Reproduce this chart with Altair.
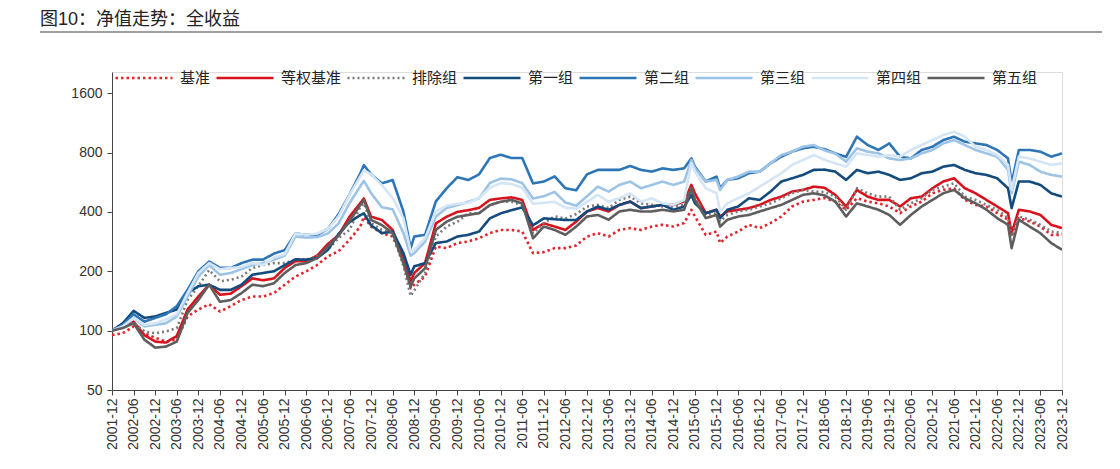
import altair as alt
import pandas as pd

# ---------------- data ----------------
dates = [
    "2001-12",
    "2002-03", "2002-06", "2002-09", "2002-12",
    "2003-03", "2003-06", "2003-09", "2003-12",
    "2004-03", "2004-06", "2004-09", "2004-12",
    "2005-03", "2005-06", "2005-09", "2005-12",
    "2006-03", "2006-06", "2006-09", "2006-12",
    "2007-03", "2007-06", "2007-09", "2007-10", "2007-12",
    "2008-03", "2008-06", "2008-09", "2008-11", "2008-12",
    "2009-03", "2009-06", "2009-09", "2009-12",
    "2010-03", "2010-06", "2010-09", "2010-12",
    "2011-03", "2011-06", "2011-09", "2011-12",
    "2012-03", "2012-06", "2012-09", "2012-12",
    "2013-03", "2013-06", "2013-09", "2013-12",
    "2014-03", "2014-06", "2014-09", "2014-12",
    "2015-03", "2015-05", "2015-06", "2015-09", "2015-12",
    "2016-01", "2016-03", "2016-06", "2016-09", "2016-12",
    "2017-03", "2017-06", "2017-09", "2017-12",
    "2018-03", "2018-06", "2018-09", "2018-12",
    "2019-03", "2019-06", "2019-09", "2019-12",
    "2020-03", "2020-06", "2020-09", "2020-12",
    "2021-03", "2021-06", "2021-09", "2021-12",
    "2022-03", "2022-06", "2022-09", "2022-10", "2022-12",
    "2023-03", "2023-06", "2023-09", "2023-12",
]

benchmark = [
    95,
    97, 105, 97, 92,
    88, 90, 118, 128,
    136, 125, 133, 143,
    149, 149, 155, 171,
    188, 200, 215, 238,
    253, 289, 337, 378, 337,
    312, 300, 220, 164, 171,
    188, 267, 262, 278,
    283, 294, 312, 324,
    324, 318, 247, 250,
    262, 262, 270, 300,
    312, 300, 324, 331,
    324, 337, 344, 337,
    351, 410, 379, 306, 318,
    278, 300, 318, 344, 331,
    351, 379, 426, 451,
    460, 470, 451, 410,
    469, 451, 442, 426,
    394, 426, 451, 497,
    517, 527, 460, 434,
    426, 394, 365, 300, 372,
    358, 337, 306, 306,
]

equal_weight = [
    100,
    105, 111, 95, 88,
    87, 94, 128, 149,
    171, 152, 154, 168,
    184, 180, 184, 208,
    225, 225, 240, 275,
    305, 378, 443, 468, 378,
    364, 324, 229, 178, 196,
    220, 350, 378, 400,
    408, 419, 460, 468,
    474, 460, 324, 350,
    337, 324, 357, 402,
    418, 402, 434, 451,
    418, 426, 434, 434,
    451, 548, 497, 394, 410,
    379, 402, 410, 418, 434,
    460, 478, 507, 517,
    537, 530, 488, 426,
    517, 478, 460, 460,
    426, 469, 478, 527,
    570, 592, 527, 497,
    460, 426, 394, 312, 410,
    402, 386, 344, 331,
]

excluded = [
    100,
    105, 110, 99, 97,
    99, 103, 143, 168,
    203, 178, 181, 188,
    208, 215, 220, 220,
    229, 229, 238, 257,
    295, 324, 424, 442, 350,
    324, 312, 212, 150, 160,
    196, 300, 337, 357,
    394, 394, 433, 450,
    450, 433, 312, 350,
    380, 370, 390, 426,
    434, 418, 460, 478,
    442, 434, 426, 426,
    434, 527, 469, 386, 394,
    358, 386, 402, 410, 426,
    442, 469, 497, 517,
    507, 505, 478, 410,
    527, 497, 478, 478,
    410, 442, 469, 517,
    537, 559, 478, 460,
    434, 410, 372, 300, 379,
    365, 344, 318, 312,
]

group1 = [
    100,
    109, 126, 116, 118,
    123, 128, 155, 168,
    171, 161, 161, 171,
    192, 196, 200, 215,
    230, 229, 233, 257,
    310, 355, 385, 393, 342,
    312, 318, 247, 192, 212,
    220, 278, 283, 300,
    306, 318, 371, 393,
    408, 422, 342, 371,
    367, 364, 364, 402,
    426, 410, 434, 451,
    418, 426, 434, 410,
    426, 488, 442, 394, 410,
    372, 410, 426, 469, 460,
    507, 570, 592, 616,
    653, 655, 640, 581,
    653, 628, 640, 616,
    581, 592, 628, 640,
    678, 692, 653, 628,
    616, 592, 527, 418, 570,
    570, 548, 497, 478,
]

group2 = [
    100,
    107, 121, 111, 116,
    121, 133, 161, 200,
    224, 208, 208, 220,
    229, 229, 246, 256,
    311, 306, 306, 328,
    390, 490, 627, 690, 620,
    558, 580, 401, 262, 300,
    306, 452, 527, 600,
    580, 620, 750, 780,
    750, 750, 558, 570,
    605, 527, 515, 620,
    653, 653, 653, 684,
    653, 640, 665, 653,
    665, 747, 678, 570, 604,
    527, 581, 592, 628, 640,
    705, 762, 808, 840,
    856, 832, 792, 760,
    962, 873, 824, 890,
    762, 747, 824, 856,
    925, 962, 908, 890,
    873, 824, 747, 559, 824,
    824, 808, 762, 792,
]

group3 = [
    100,
    105, 116, 105, 107,
    109, 118, 149, 188,
    215, 192, 196, 205,
    215, 220, 229, 240,
    300, 296, 298, 311,
    350, 443, 540, 575, 498,
    422, 412, 312, 240, 247,
    283, 378, 419, 433,
    450, 468, 560, 590,
    585, 560, 468, 480,
    505, 446, 430, 480,
    537, 507, 548, 570,
    527, 548, 570, 548,
    570, 733, 665, 570, 581,
    517, 581, 604, 640, 640,
    705, 777, 808, 856,
    873, 820, 790, 719,
    840, 808, 792, 747,
    733, 747, 792, 824,
    890, 925, 873, 824,
    792, 762, 653, 497, 719,
    692, 640, 616, 604,
]

group4 = [
    100,
    105, 116, 107, 109,
    114, 121, 155, 196,
    220, 205, 208, 210,
    220, 215, 235, 244,
    311, 306, 310, 328,
    381, 488, 605, 650, 620,
    546, 470, 371, 252, 257,
    294, 402, 430, 440,
    445, 470, 530, 560,
    555, 530, 440, 445,
    450, 420, 415, 450,
    488, 451, 469, 497,
    451, 469, 442, 434,
    460, 705, 640, 527, 497,
    402, 442, 469, 497, 537,
    581, 628, 692, 733,
    777, 735, 705, 678,
    792, 777, 762, 777,
    762, 824, 873, 925,
    981, 1020, 962, 856,
    824, 777, 692, 517, 762,
    747, 719, 692, 705,
]

group5 = [
    100,
    103, 109, 90, 82,
    83, 88, 123, 143,
    171, 140, 143, 155,
    171, 168, 174, 196,
    215, 220, 233, 267,
    304, 360, 433, 460, 364,
    343, 312, 220, 167, 184,
    207, 324, 357, 378,
    386, 394, 433, 450,
    460, 442, 294, 337,
    324, 306, 337, 379,
    386, 365, 402, 410,
    402, 402, 410, 402,
    410, 527, 460, 372, 386,
    337, 365, 379, 386, 402,
    418, 434, 460, 488,
    497, 485, 451, 379,
    442, 426, 410, 386,
    344, 386, 426, 460,
    497, 517, 469, 442,
    410, 372, 344, 262, 365,
    337, 312, 278, 257,
]

series_names = ["基准", "等权基准", "排除组", "第一组", "第二组", "第三组", "第四组", "第五组"]
series_values = [benchmark, equal_weight, excluded, group1, group2, group3, group4, group5]

y_ticks = [50, 100, 200, 400, 800, 1600]
title_text = "图10：净值走势：全收益"

# ---------------- styles ----------------
colors = ["#e3242b", "#d7141e", "#7a7a7a", "#134b7d", "#2e75b6", "#9dc3e6", "#d4e5f5", "#5e5e5e"]
dashes = [[2.5, 3], [1, 0], [2, 3], [1, 0], [1, 0], [1, 0], [1, 0], [1, 0]]

rows = []
for name, vals in zip(series_names, series_values):
    assert len(vals) == len(dates), (name, len(vals))
    for d, v in zip(dates, vals):
        yr, mo = int(d[:4]), int(d[5:])
        rows.append({"date": d, "m": (yr - 2001) * 12 + mo - 12, "series": name, "value": v})
df = pd.DataFrame(rows)

FONT_NUM = "Liberation Sans, Arial, sans-serif"
FONT_CJK = "Noto Sans CJK SC"
FONT_TITLE = "Liberation Sans, Noto Sans CJK SC"

leg = alt.Legend(
    orient="none", legendX=2, legendY=-24, direction="horizontal", columns=8,
    title=None, symbolType="stroke", symbolSize=3249, symbolStrokeWidth=2.6,
    labelFont=FONT_CJK, labelFontSize=15, labelColor="#222222",
    columnPadding=0, labelOffset=6, padding=0,
)

x_enc = alt.X(
    "m:Q", title=None,
    scale=alt.Scale(domain=[0, 264], nice=False, zero=False),
    axis=alt.Axis(
        values=list(range(0, 265, 6)), labelAngle=-90,
        labelExpr="toString(2001 + floor((datum.value + 6) / 12)) + '-' + (datum.value % 12 == 0 ? '12' : '06')",
        labelFont=FONT_NUM, labelFontSize=14, labelColor="#333333",
        tickSize=5, labelPadding=3, grid=False,
        domainColor="#444444", tickColor="#444444",
    ),
)
y_enc = alt.Y(
    "value:Q", title=None,
    scale=alt.Scale(type="log", domain=[50, 2048], nice=False),
    axis=alt.Axis(
        values=y_ticks, format="d",
        labelFont=FONT_NUM, labelFontSize=14, labelColor="#333333",
        tickSize=5, labelPadding=5, grid=False,
        domainColor="#444444", tickColor="#444444",
    ),
)

base = alt.Chart(df).mark_line(strokeWidth=2.6, strokeJoin="round", clip=True).encode(
    x=x_enc,
    y=y_enc,
    color=alt.Color("series:N", scale=alt.Scale(domain=series_names, range=colors), legend=leg),
    strokeDash=alt.StrokeDash("series:N", scale=alt.Scale(domain=series_names, range=dashes), legend=leg),
    order="m:Q",
)

line_layers = [base.transform_filter(alt.datum.series == n) for n in series_names]

title_df = pd.DataFrame({"t": [title_text]})
title_mark = alt.Chart(title_df).mark_text(
    align="left", baseline="middle", font=FONT_TITLE, fontSize=18, color="#222222"
).encode(text="t:N", x=alt.value(-72), y=alt.value(-52))
title_rule = alt.Chart(title_df).mark_rule(color="#808080", strokeWidth=1.5).encode(
    x=alt.value(-72), x2=alt.value(992), y=alt.value(-40)
)

chart = alt.layer(*line_layers, title_mark, title_rule).properties(
    width=950, height=318,
    padding={"left": 104, "top": 64, "right": 40, "bottom": 70},
    autosize=alt.AutoSizeParams(type="none"),
).configure_view(stroke=None).configure(background="white")

chart.save("out.html", embed_options={"renderer": "svg", "actions": False})
